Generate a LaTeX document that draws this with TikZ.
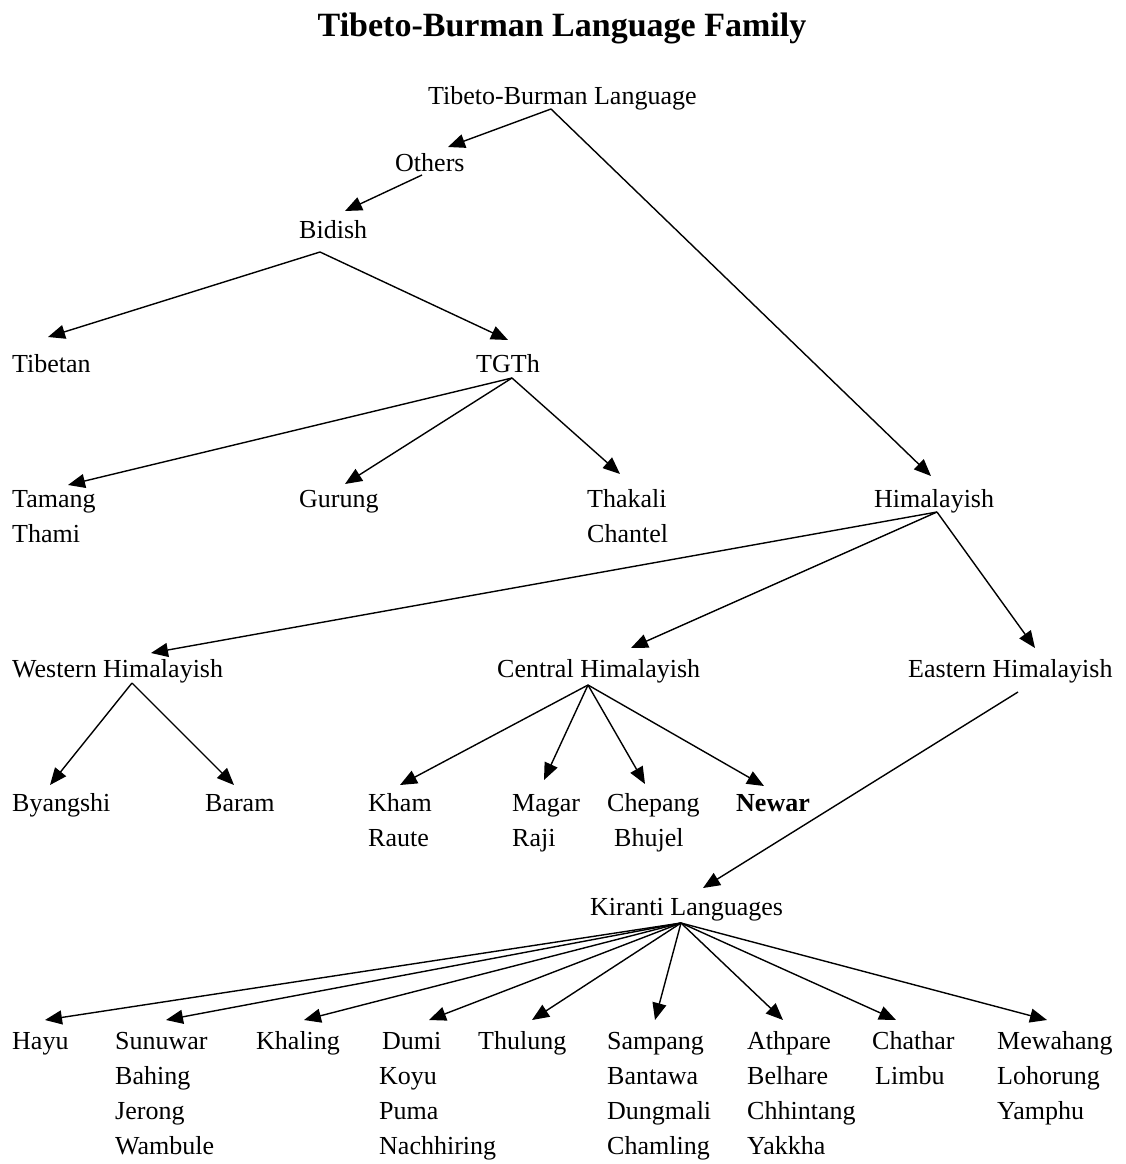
\documentclass[tikz,border=0pt]{standalone}
\usepackage{fontspec}
\setmainfont{Liberation Serif}
\usetikzlibrary{arrows.meta}

% several names under one another, first line on the baseline
\newcommand{\langlist}[1]{\begin{tabular}[t]{@{}l@{}}#1\end{tabular}}

\begin{document}
\begin{tikzpicture}[
        x=1pt, y=-1pt,
        heading/.style={anchor=base, inner sep=0pt, font=\fontsize{34}{40}\selectfont\bfseries},
        lang/.style={anchor=base west, inner sep=0pt, font=\fontsize{26}{35.3}\selectfont},
        arrow/.style={-{Triangle[length=17pt,width=14pt]}, line width=1.4pt}
    ]
        \useasboundingbox (0,0) rectangle (1125,1164);
        \node[heading] (title) at (562,37) {Tibeto-Burman Language Family};

        % upper levels
        \node[lang] (tbl) at (428,104) {Tibeto-Burman Language};
        \node[lang] (others) at (395,171) {Others};
        \node[lang] (bidish) at (299,238) {Bidish};
        \node[lang] (tibetan) at (12,372) {Tibetan};
        \node[lang] (tgth) at (476,372) {TGTh};
        \node[lang] (tamang) at (12,507) {\langlist{Tamang\\Thami}};
        \node[lang] (gurung) at (299,507) {Gurung};
        \node[lang] (thakali) at (587,507) {\langlist{Thakali\\Chantel}};
        \node[lang] (himal) at (874,507) {Himalayish};

        % himalayish groups
        \node[lang] (western) at (12,677) {Western Himalayish};
        \node[lang] (central) at (497,677) {Central Himalayish};
        \node[lang] (eastern) at (908,677) {Eastern Himalayish};
        \node[lang] (byangshi) at (12,811) {Byangshi};
        \node[lang] (baram) at (205,811) {Baram};
        \node[lang] (kham) at (368,811) {\langlist{Kham\\Raute}};
        \node[lang] (magar) at (512,811) {\langlist{Magar\\Raji}};
        \node[lang] (chepang) at (607,811) {\langlist{Chepang\\\hspace*{7pt}Bhujel}};
        \node[lang, font=\fontsize{26}{35.3}\selectfont\bfseries] (newar) at (736,811) {Newar};

        % kiranti
        \node[lang] (kiranti) at (590,915) {Kiranti Languages};
        \node[lang] (hayu) at (12,1049) {Hayu};
        \node[lang] (sunuwar) at (115,1049) {\langlist{Sunuwar\\Bahing\\Jerong\\Wambule}};
        \node[lang] (khaling) at (256,1049) {Khaling};
        \node[lang] (dumi) at (379,1049) {\langlist{\hspace*{3pt}Dumi\\Koyu\\Puma\\Nachhiring}};
        \node[lang] (thulung) at (478,1049) {Thulung};
        \node[lang] (sampang) at (607,1049) {\langlist{Sampang\\Bantawa\\Dungmali\\Chamling}};
        \node[lang] (athpare) at (747,1049) {\langlist{Athpare\\Belhare\\Chhintang\\Yakkha}};
        \node[lang] (chathar) at (872,1049) {\langlist{Chathar\\\hspace*{3pt}Limbu}};
        \node[lang] (mewahang) at (997,1049) {\langlist{Mewahang\\Lohorung\\Yamphu}};

        \draw[arrow] ([xshift=123pt,yshift=-5pt]tbl.base west) -- ([xshift=53pt,yshift=24pt]others.base west);
        \draw[arrow] ([xshift=123pt,yshift=-5pt]tbl.base west) -- ([xshift=57pt,yshift=31pt]himal.base west);
        \draw[arrow] ([xshift=27pt,yshift=-4pt]others.base west) -- ([xshift=46pt,yshift=27pt]bidish.base west);
        \draw[arrow] ([xshift=21pt,yshift=-14pt]bidish.base west) -- ([xshift=36pt,yshift=35pt]tibetan.base west);
        \draw[arrow] ([xshift=21pt,yshift=-14pt]bidish.base west) -- ([xshift=32pt,yshift=32pt]tgth.base west);
        \draw[arrow] ([xshift=36pt,yshift=-6pt]tgth.base west) -- ([xshift=56pt,yshift=22pt]tamang.base west);
        \draw[arrow] ([xshift=36pt,yshift=-6pt]tgth.base west) -- ([xshift=46pt,yshift=23pt]gurung.base west);
        \draw[arrow] ([xshift=36pt,yshift=-6pt]tgth.base west) -- ([xshift=33pt,yshift=33pt]thakali.base west);

        \draw[arrow] ([xshift=63pt,yshift=-5pt]himal.base west) -- ([xshift=139pt,yshift=24pt]western.base west);
        \draw[arrow] ([xshift=63pt,yshift=-5pt]himal.base west) -- ([xshift=134pt,yshift=29pt]central.base west);
        \draw[arrow] ([xshift=63pt,yshift=-5pt]himal.base west) -- ([xshift=127pt,yshift=29pt]eastern.base west);
        \draw[arrow] ([xshift=120pt,yshift=-6pt]western.base west) -- ([xshift=38pt,yshift=26pt]byangshi.base west);
        \draw[arrow] ([xshift=120pt,yshift=-6pt]western.base west) -- ([xshift=29pt,yshift=26pt]baram.base west);
        \draw[arrow] ([xshift=91pt,yshift=-8pt]central.base west) -- ([xshift=32pt,yshift=26pt]kham.base west);
        \draw[arrow] ([xshift=91pt,yshift=-8pt]central.base west) -- ([xshift=32pt,yshift=31pt]magar.base west);
        \draw[arrow] ([xshift=91pt,yshift=-8pt]central.base west) -- ([xshift=38pt,yshift=27pt]chepang.base west);
        \draw[arrow] ([xshift=91pt,yshift=-8pt]central.base west) -- ([xshift=28pt,yshift=25pt]newar.base west);
        \draw[arrow] ([xshift=110pt,yshift=-15pt]eastern.base west) -- ([xshift=113pt,yshift=27pt]kiranti.base west);

        \foreach \lng/\dx in {hayu/33, sunuwar/51, khaling/48, dumi/50, thulung/54, sampang/48, athpare/36, chathar/24, mewahang/50}
            \draw[arrow] ([xshift=91pt,yshift=-8pt]kiranti.base west) -- ([xshift=\dx pt,yshift=29pt]\lng.base west);
    \end{tikzpicture}
\end{document}
